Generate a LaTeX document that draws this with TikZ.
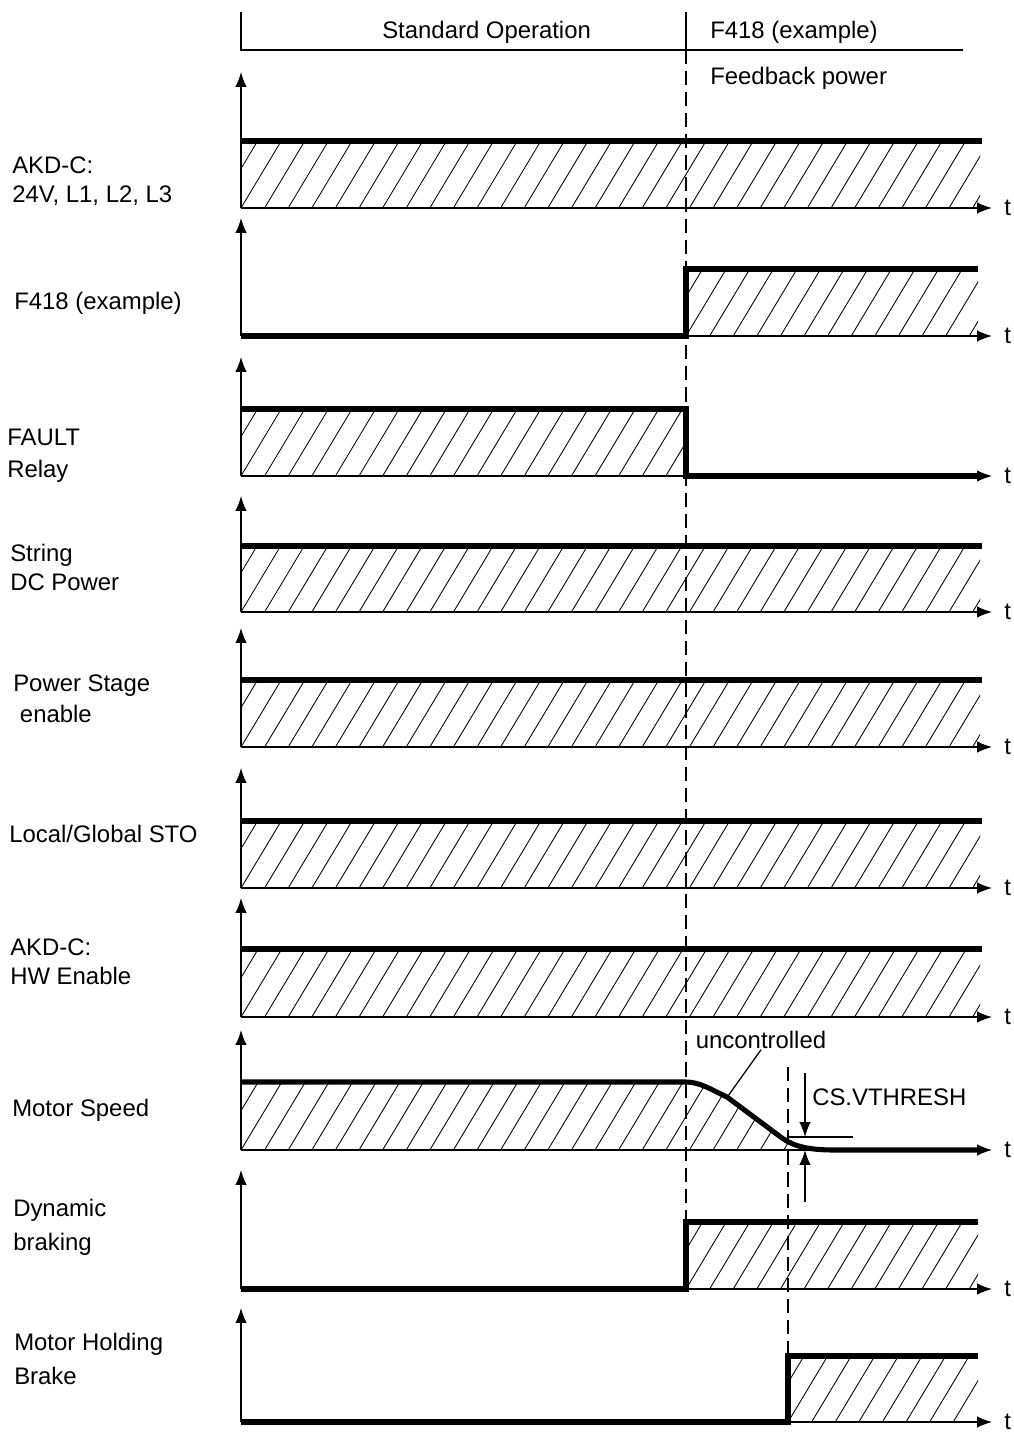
\documentclass[tikz,border=0pt]{standalone}
\usepackage{fontspec}
\setmainfont{Liberation Sans}
\usetikzlibrary{arrows.meta}

% hatched area: top-left x,y and bottom-right x,y
\newcommand\hatchrect[4]{%
  \begin{scope}
    \clip (#1,#2) rectangle (#3,#4);
    \foreach \k in {-4,...,34}
      \draw[hatch] ({#1+\k*23.6},#4) -- ++(60,-100);
  \end{scope}}

\begin{document}
\begin{tikzpicture}[x=0.025cm, y=-0.025cm,
  font=\fontsize{17}{20.5}\selectfont,
  sig/.style={line width=3.6pt},
  thin/.style={line width=0.9pt},
  axis/.style={line width=0.9pt, -{Latex[length=10.5pt,width=8pt]}},
  hatch/.style={line width=0.6pt},
  guide/.style={line width=0.9pt, dash pattern=on 10pt off 5pt},
  lbl/.style={anchor=base west, align=left, inner sep=0pt},
  tlbl/.style={anchor=west, inner sep=0pt}
]
  \useasboundingbox (0,0) rectangle (1013,1432);

  % header
  \draw[thin] (241,12) -- (241,50) -- (963,50);
  \draw[thin] (686,12) -- (686,50);
  \node[lbl] (hstd)   at (382,39) {Standard Operation};
  \node[lbl] (hfault) at (710,39) {F418 (example)};
  \node[lbl] (fbpow)  at (710,85) {Feedback power};

  % signal names (anchored at the last line)
  \node[lbl] (lmains) at (12,202)  {AKD-C:\\24V, L1, L2, L3};
  \node[lbl] (lf418)  at (14,309)  {F418 (example)};
  \node[lbl] (lfault) at (7,477)   {FAULT\\[2pt]Relay};
  \node[lbl] (ldc)    at (10,590)  {String\\DC Power};
  \node[lbl] (lstage) at (13,722)  {Power Stage\\[1pt]\hspace*{0.28em}enable};
  \node[lbl] (lsto)   at (9,842)   {Local/Global STO};
  \node[lbl] (lhwen)  at (10,984)  {AKD-C:\\HW Enable};
  \node[lbl] (lspeed) at (12,1116) {Motor Speed};
  \node[lbl] (ldyn)   at (13,1250) {Dynamic\\[3pt]braking};
  \node[lbl] (lbrake) at (14,1384) {Motor Holding\\[3pt]Brake};

  % rows that stay high
  \foreach \hi/\base in {141/208, 546/612, 680/747, 821/888, 949/1017} {
    \hatchrect{241}{\hi}{980}{\base}
    \draw[sig] (241,\hi) -- (982,\hi);
  }

  % F418
  \hatchrect{686}{269}{978}{336}
  \draw[sig] (241,336) -- (686,336) -- (686,269) -- (978,269);

  % FAULT relay
  \hatchrect{241}{409}{686}{476}
  \draw[sig] (241,409) -- (686,409) -- (686,476) -- (980,476);

  % motor speed
  \begin{scope}
    \clip (241,1150) -- (241,1082) -- (686,1082)
      .. controls (700,1082) and (712,1090) .. (727,1097) -- (782,1138)
      .. controls (795,1147) and (810,1150) .. (835,1150) -- cycle;
    \foreach \k in {-4,...,34}
      \draw[hatch] ({241+\k*23.6},1150) -- ++(60,-100);
  \end{scope}
  \draw[sig] (241,1082) -- (686,1082)
    .. controls (700,1082) and (712,1090) .. (727,1097) -- (782,1138)
    .. controls (795,1147) and (810,1150) .. (835,1150) -- (980,1150);
  \node[anchor=center] (unctl) at (761,1040) {uncontrolled};
  \coordinate (uncend) at (728,1096);
  \draw[thin] (unctl.south) ++(0,-4) coordinate (uncstart) (uncstart) -- (uncend);
  \node[anchor=west, inner sep=0pt] (vthr) at (812,1097) {CS.VTHRESH};
  \coordinate (thrL) at (788,1137);
  \coordinate (thrR) at (853,1137);
  \draw[thin] (thrL) -- (thrR);
  \coordinate (dnA) at (805,1073);
  \coordinate (dnB) at (805,1137);
  \coordinate (upA) at (805,1202);
  \coordinate (upB) at (805,1150);
  \draw[axis] (dnA) -- (dnB);
  \draw[axis] (upA) -- (upB);

  % dynamic braking
  \hatchrect{686}{1222}{978}{1289}
  \draw[sig] (241,1289) -- (686,1289) -- (686,1222) -- (978,1222);

  % holding brake
  \hatchrect{788}{1356}{978}{1422}
  \draw[sig] (241,1422) -- (788,1422) -- (788,1356) -- (978,1356);

  % axes
  \foreach \n/\base/\top in {1/208/72, 2/336/218, 3/476/357, 4/612/496,
      5/747/628, 6/888/768, 7/1017/898, 8/1150/1030, 9/1289/1170,
      10/1422/1308} {
    \draw[axis] (241,\base) -- (241,\top);
    \draw[axis] (241,\base) -- (992,\base);
    \node[tlbl] (t\n) at (1004,\base) {t};
  }

  % event markers
  \draw[guide] (686,50) -- (686,1222);
  \draw[guide] (788,1067) -- (788,1356);
\end{tikzpicture}
\end{document}
